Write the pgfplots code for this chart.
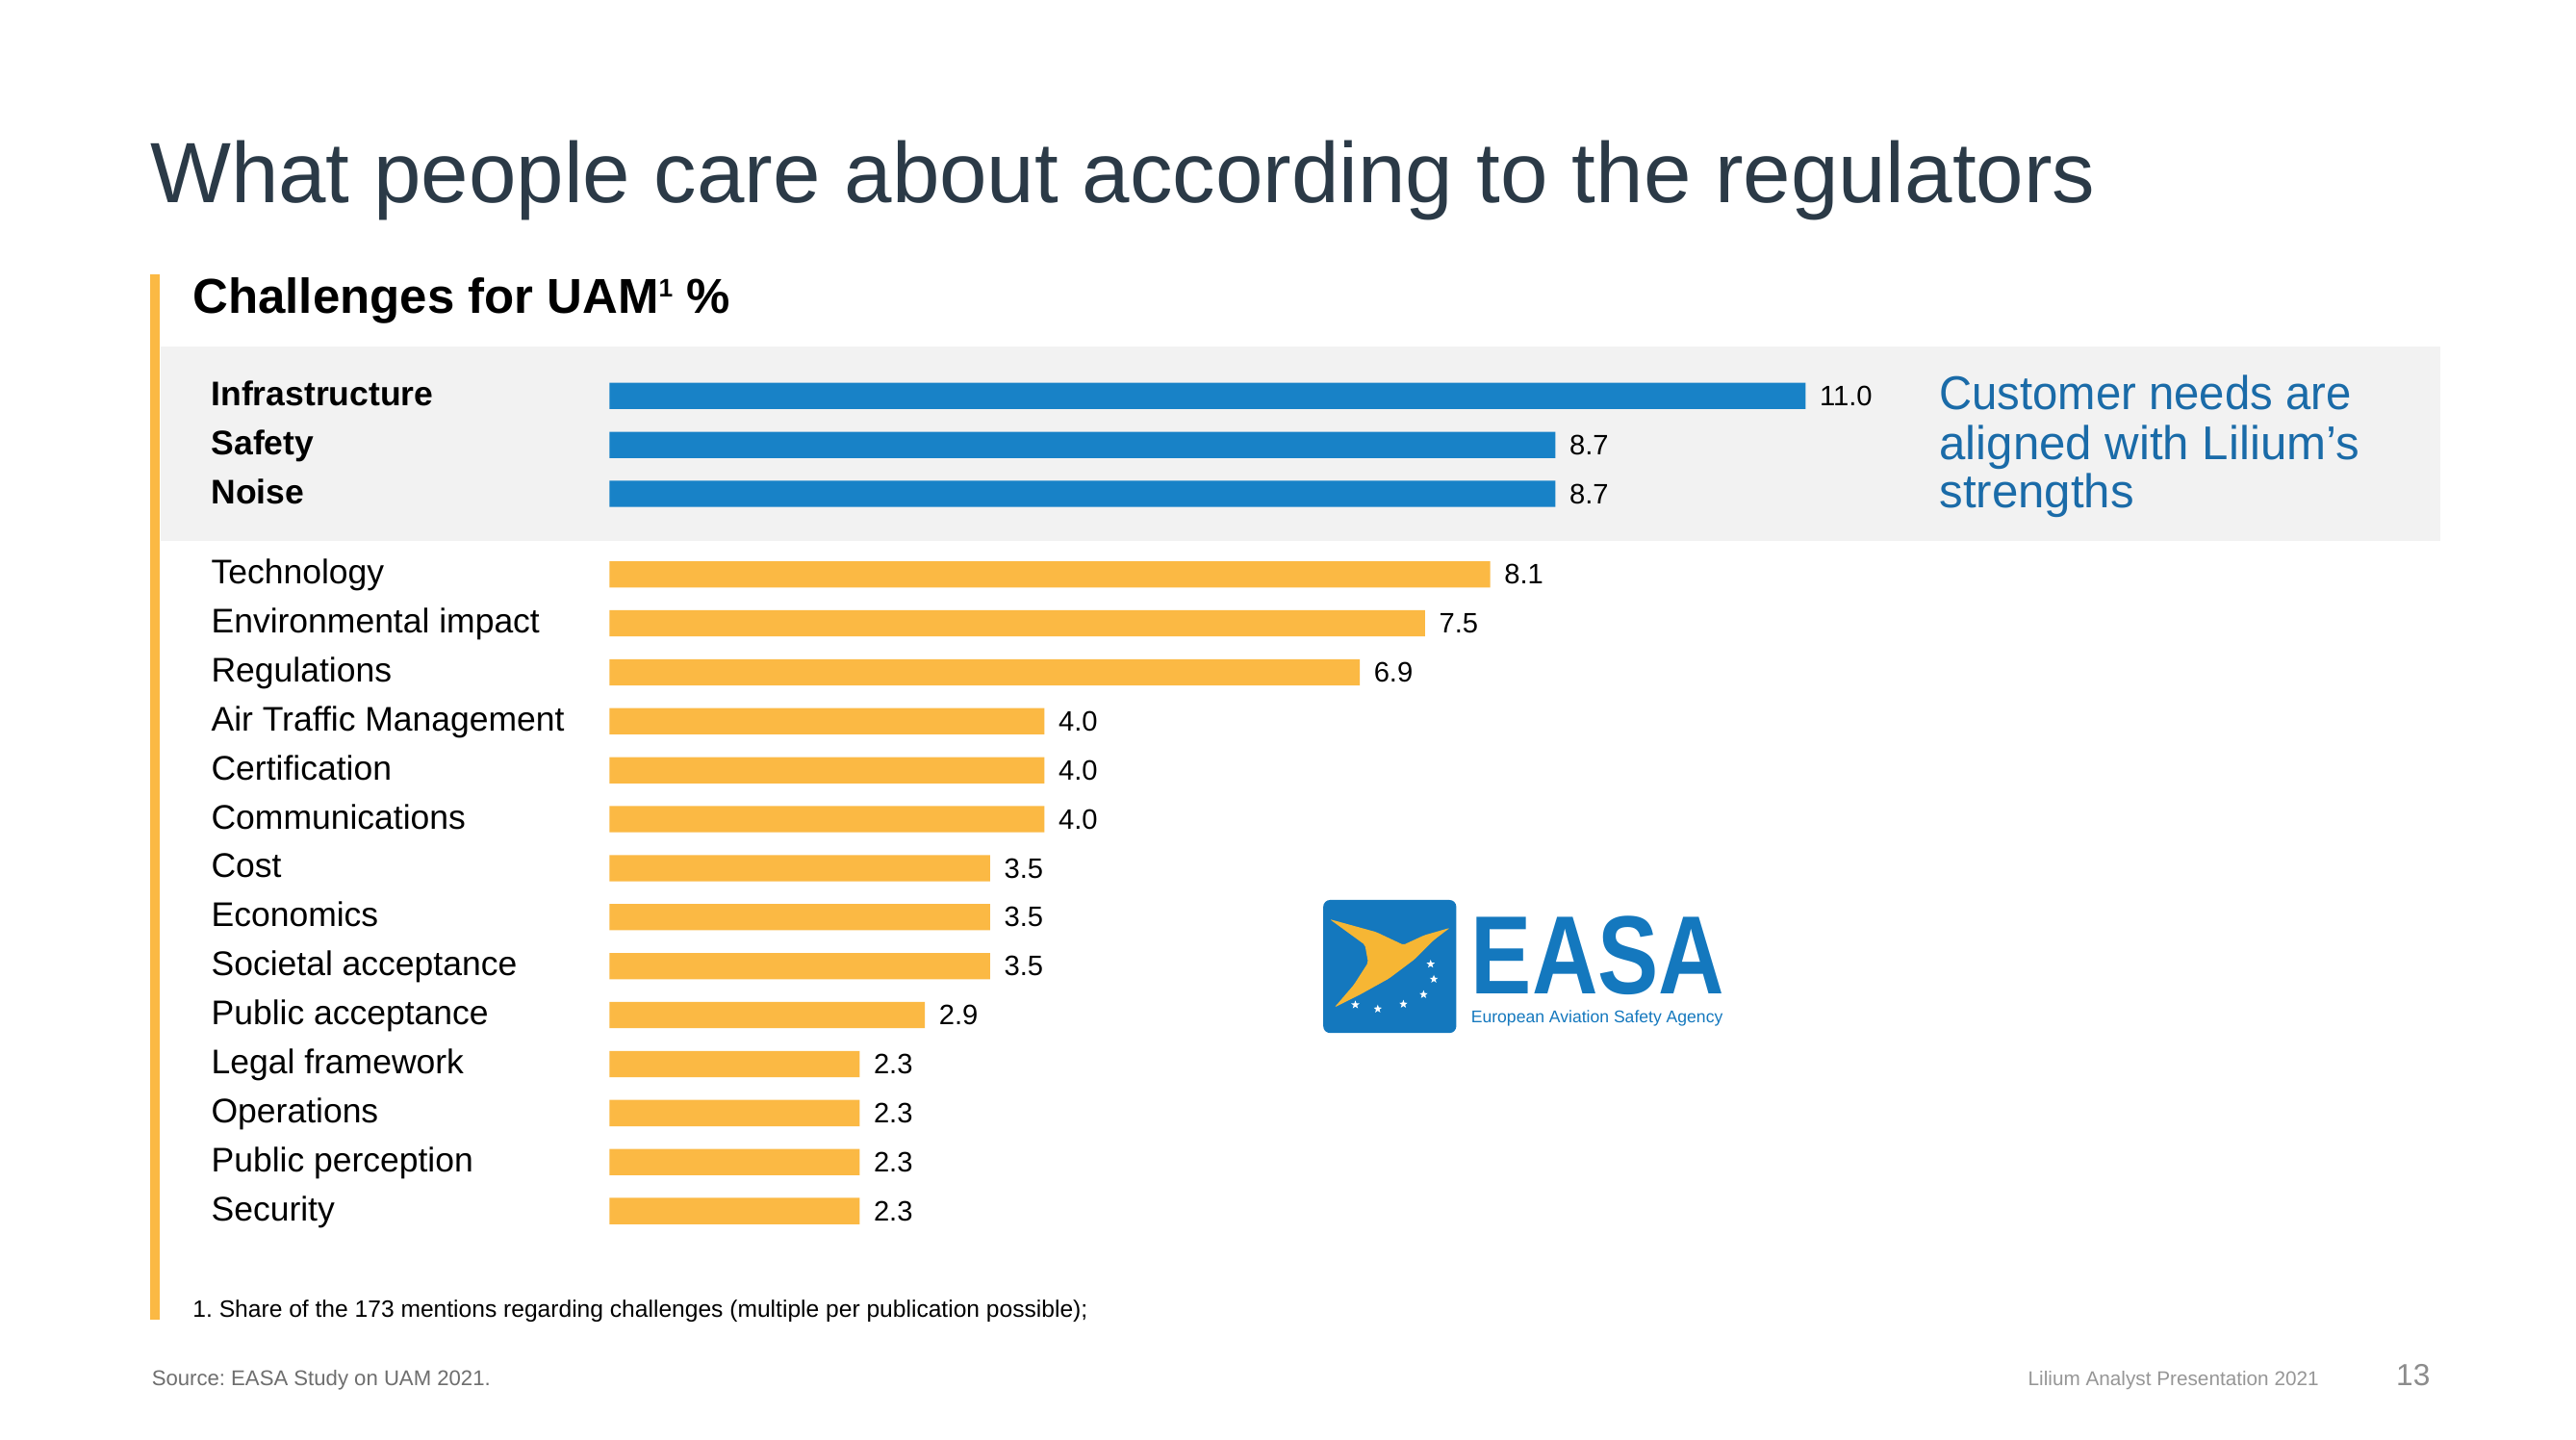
\documentclass[border=0pt]{standalone}
\usepackage{fontspec}
\setmainfont{Liberation Sans}
\newfontfamily\easafont{Liberation Sans}[FakeStretch=0.82]
\usepackage{pgfplots}
\pgfplotsset{compat=1.18}
\usetikzlibrary{shapes.geometric}
\definecolor{barblue}{RGB}{24,130,199}
\definecolor{barorange}{RGB}{251,185,68}
\definecolor{textblue}{RGB}{26,107,168}
\definecolor{titlecol}{RGB}{43,58,71}
\definecolor{bandgrey}{RGB}{242,242,242}
\definecolor{easablue}{RGB}{20,120,190}
\definecolor{easayellow}{RGB}{246,182,52}
\frenchspacing
\begin{document}
\begin{tikzpicture}
\useasboundingbox (0,0) rectangle (26.77,-14.96);
\fill[white] (0,0) rectangle (26.77,-14.96);
\begin{scope}[x=0.017073cm,y=-0.017073cm]
\fill[bandgrey] (98,211) rectangle (1485,329);
\fill[barorange] (91.5,167) rectangle (97,803);
\node[anchor=base west, inner sep=0, font=\fontsize{25.3}{30}\selectfont, text=titlecol] at (91,123) {What people care about according to the regulators};
\node[anchor=base west, inner sep=0, font=\fontsize{14.5}{17}\selectfont\bfseries] at (117,190.4) {Challenges for UAM\raisebox{0.62ex}{\fontsize{7.5}{8}\selectfont 1} \%};
\node[anchor=base west, inner sep=0, text=textblue, font=\fontsize{14}{16}\selectfont\addfontfeatures{FakeStretch=0.96}] at (1180,249) {Customer needs are};
\node[anchor=base west, inner sep=0, text=textblue, font=\fontsize{14}{16}\selectfont] at (1180,279.5) {aligned with Lilium’s};
\node[anchor=base west, inner sep=0, text=textblue, font=\fontsize{14}{16}\selectfont] at (1180,309) {strengths};
\node[anchor=base west, inner sep=0, font=\fontsize{7}{8}\selectfont] at (117,801.5) {1. Share of the 173 mentions regarding challenges (multiple per publication possible);};
\node[anchor=base west, inner sep=0, text={rgb,255:red,110;green,110;blue,110}, font=\fontsize{6.3}{8}\selectfont] at (92,843) {Source: EASA Study on UAM 2021.};
\node[anchor=base west, inner sep=0, text={rgb,255:red,150;green,150;blue,150}, font=\fontsize{5.9}{8}\selectfont] at (1234,843) {Lilium Analyst Presentation 2021};
\node[anchor=base west, inner sep=0, text={rgb,255:red,140;green,140;blue,140}, font=\fontsize{9}{10}\selectfont] at (1458,843) {13};
% EASA logo
\begin{scope}[shift={(805.4,547.6)}, scale=0.195]
\fill[easablue, rounded corners=0.07cm] (0,0) rectangle (415,415);
\fill[easayellow, rounded corners=0.02cm] (20,60) -- (165,100) -- (250,140) -- (315,110) -- (395,87) -- (345,125) -- (285,185) -- (205,245) -- (115,295) -- (35,335) -- (95,265) -- (140,195) -- (130,140) -- cycle;
\foreach \p in {(335,200),(345,247),(313,295),(250,325),(170,340),(100,327)}
  \node[star, star points=5, star point ratio=2.4, fill=white, inner sep=0pt, minimum size=0.09cm] at \p {};
\end{scope}
\node[anchor=base west, inner sep=0, text=easablue, font=\fontsize{32.9}{34}\selectfont\easafont\bfseries] at (895,604.5) {\smash{EASA}};
\node[anchor=base west, inner sep=0, text=easablue, font=\fontsize{5}{6}\selectfont] at (895,622.5) {European Aviation Safety Agency};
\end{scope}
\begin{axis}[
  at={(6.3341cm,-3.8076cm)}, anchor=north west,
  width=12.429cm, height=9.107cm, scale only axis,
  xmin=0, xmax=11, ymin=-0.6, ymax=17.3, y dir=reverse,
  axis line style={draw=none}, tick style={draw=none},
  xtick=\empty,
  ytick={0,1,2,3.644,4.644,5.644,6.644,7.644,8.644,9.644,10.644,11.644,12.644,13.644,14.644,15.644,16.644},
  yticklabels={\textbf{Infrastructure},\textbf{Safety},\textbf{Noise},Technology,Environmental impact,Regulations,Air Traffic Management,Certification,Communications,Cost,Economics,Societal acceptance,Public acceptance,Legal framework,Operations,Public perception,Security},
  yticklabel style={anchor=base west, inner sep=0pt, xshift=-3.995cm, yshift=-0.100cm, font=\fontsize{10.1}{12}\selectfont, text=black},
  xbar, bar width=0.273cm,
  point meta=x,
  nodes near coords,
  nodes near coords style={anchor=west, inner sep=0pt, xshift=0.14cm, text=black, font=\fontsize{8.3}{10}\selectfont, /pgf/number format/fixed, /pgf/number format/fixed zerofill, /pgf/number format/precision=1},
  /pgf/number format/assume math mode=true,
  clip=false,
]
\addplot[fill=barblue, draw=none, bar shift=0pt] coordinates {(11.0,0) (8.7,1) (8.7,2)};
\addplot[fill=barorange, draw=none, bar shift=0pt] coordinates {(8.1,3.644) (7.5,4.644) (6.9,5.644) (4.0,6.644) (4.0,7.644) (4.0,8.644) (3.5,9.644) (3.5,10.644) (3.5,11.644) (2.9,12.644) (2.3,13.644) (2.3,14.644) (2.3,15.644) (2.3,16.644)};
\end{axis}
\end{tikzpicture}
\end{document}
